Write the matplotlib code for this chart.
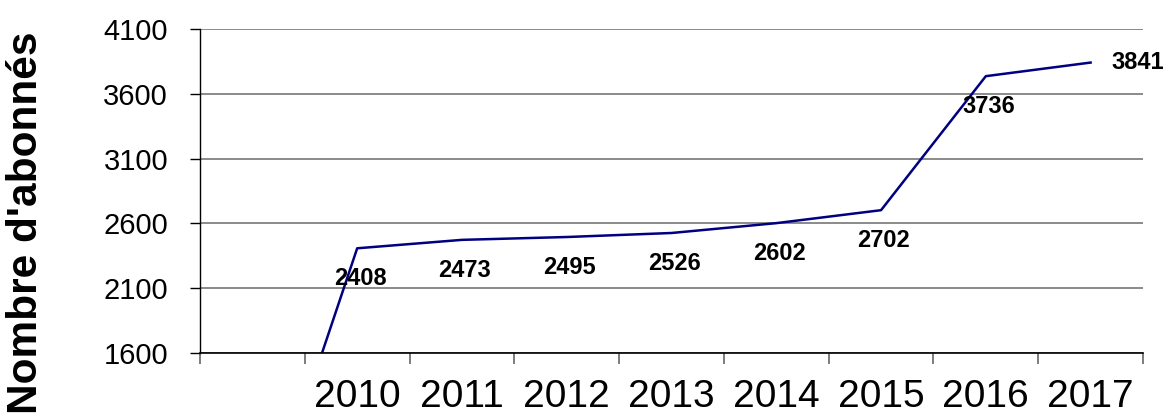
import matplotlib.pyplot as plt
import numpy as np

plt.rcParams['font.family'] = ['Liberation Sans', 'DejaVu Sans']

# données
categories = ['', '2010', '2011', '2012', '2013', '2014', '2015', '2016', '2017']
abonnes = [0, 2408, 2473, 2495, 2526, 2602, 2702, 3736, 3841]
y_ticks = [1600, 2100, 2600, 3100, 3600, 4100]

fig = plt.figure(figsize=(11.65, 4.19), dpi=100)
ax = fig.add_axes([0.1717, 0.1575, 0.8094, 0.7733])

x = np.arange(len(categories))
ax.plot(x, abonnes, color='#000080', linewidth=1.8, clip_on=True)

# étiquettes de données
for i, v in enumerate(abonnes):
    if v < y_ticks[0]:
        continue
    if i == len(abonnes) - 1:
        ax.annotate(str(v), (i, v), xytext=(15, 0), textcoords='offset points',
                    ha='left', va='center', fontsize=17, fontweight='bold')
    else:
        ax.annotate(str(v), (i, v), xytext=(2, -22), textcoords='offset points',
                    ha='center', va='center', fontsize=17, fontweight='bold')

ax.set_xlim(-0.5, len(categories) - 0.5)
ax.set_ylim(y_ticks[0], y_ticks[-1])
ax.set_yticks(y_ticks)
ax.set_xticks(x)
ax.set_xticklabels(categories, fontsize=28)
ax.set_xticks(np.arange(len(categories) + 1) - 0.5, minor=True)
ax.tick_params(axis='x', which='major', length=0, pad=19)
ax.tick_params(axis='x', which='minor', length=8, width=1.2, color='#666666')
ax.tick_params(axis='y', labelsize=21, length=7, width=1, pad=16)

ax.grid(axis='y', color='#777777', linewidth=1.2)
ax.set_axisbelow(True)
for s in ['top', 'right']:
    ax.spines[s].set_visible(False)
ax.spines['left'].set_linewidth(1)
ax.spines['bottom'].set_linewidth(1.2)

fig.text(26 / 1165, 1 - 223 / 419, "Nombre d'abonnés", rotation=90,
         ha='center', va='center', fontsize=30.5, fontweight='bold')

fig.savefig('out.png', dpi=100)
